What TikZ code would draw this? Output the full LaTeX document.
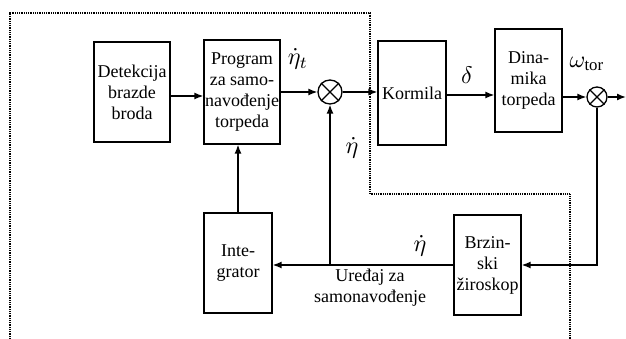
\documentclass[tikz,border=0pt]{standalone}
\usepackage{fontspec}
\setmainfont{Liberation Serif}
\usetikzlibrary{arrows.meta}
\begin{document}
\begin{tikzpicture}[x=1pt,y=-1pt,
  blk/.style={draw,line width=1.3pt,inner sep=0pt,align=center,font=\fontsize{18}{21}\selectfont},
  sumc/.style={draw,circle,line width=1.3pt,inner sep=0pt},
  conn/.style={line width=1.4pt,-{Latex[length=9pt,width=7pt]}},
  lbl/.style={inner sep=0pt,scale=2.4},
  txt/.style={inner sep=0pt,align=center,font=\fontsize{18}{21}\selectfont},
  frame/.style={line width=1.3pt,dash pattern=on 1pt off 0.8pt}]
\useasboundingbox (0,0) rectangle (626,339);
% dotted frame
\draw[frame] (10,339) -- (10,13) -- (370,13) -- (370,194) -- (570,194) -- (570,339);
% blocks
\node[blk,minimum width=76pt,minimum height=100pt] (det) at (132,92) {Detekcija\\brazde\\broda};
\node[blk,minimum width=76pt,minimum height=104pt] (prog) at (242,92) {Program\\za samo-\\navođenje\\torpeda};
\node[blk,minimum width=68pt,minimum height=104pt] (kor) at (412,93) {Kormila};
\node[blk,minimum width=67pt,minimum height=103pt] (din) at (528.5,80.5) {Dina-\\mika\\torpeda};
\node[blk,minimum width=68pt,minimum height=100pt] (integ) at (238,263) {Inte-\\grator};
\node[blk,minimum width=67pt,minimum height=100pt] (brz) at (487.5,265) {Brzin-\\ski\\žiroskop};
% summing junctions
\node[sumc,minimum size=24pt] (s1) at (330,92) {};
\node[sumc,minimum size=20pt] (s2) at (597,97) {};
\draw[line width=1.3pt] (s1.north east) -- (s1.south west) (s1.north west) -- (s1.south east);
\draw[line width=1.3pt] (s2.north east) -- (s2.south west) (s2.north west) -- (s2.south east);
\coordinate (out) at (626,97);
% connectors
\draw[conn] ([yshift=-4pt]det.east) -- ([yshift=-4pt]prog.west);
\draw[conn] (prog.east |- s1) -- (s1.west);
\draw[conn] (s1.east) -- (s1.east -| kor.west);
\draw[conn] ([yshift=-2pt]kor.east) -- ([yshift=-2pt]kor.east -| din.west);
\draw[conn] (din.east |- s2) -- (s2.west);
\draw[conn] (s2.east) -- (out);
\draw[conn] (s2.south) |- (brz.east);
\draw[conn] (brz.west) -- (brz.west -| integ.east);
\draw[conn] (s1 |- brz.west) -- (s1.south);
\draw[conn] (integ.north) -- (integ.north |- prog.south);
% labels
\node[lbl] (lt) at (298,59) {$\dot{\eta}_t$};
\node[lbl] (l2) at (352,148) {$\dot{\eta}$};
\node[lbl] (ld) at (467,75) {$\delta$};
\node[lbl] (lw) at (587,64) {$\omega_{\mathrm{tor}}$};
\node[lbl] (l3) at (420,246) {$\dot{\eta}$};
\node[txt] (lu) at (370,288) {Uređaj za\\samonavođenje};
\end{tikzpicture}
\end{document}
